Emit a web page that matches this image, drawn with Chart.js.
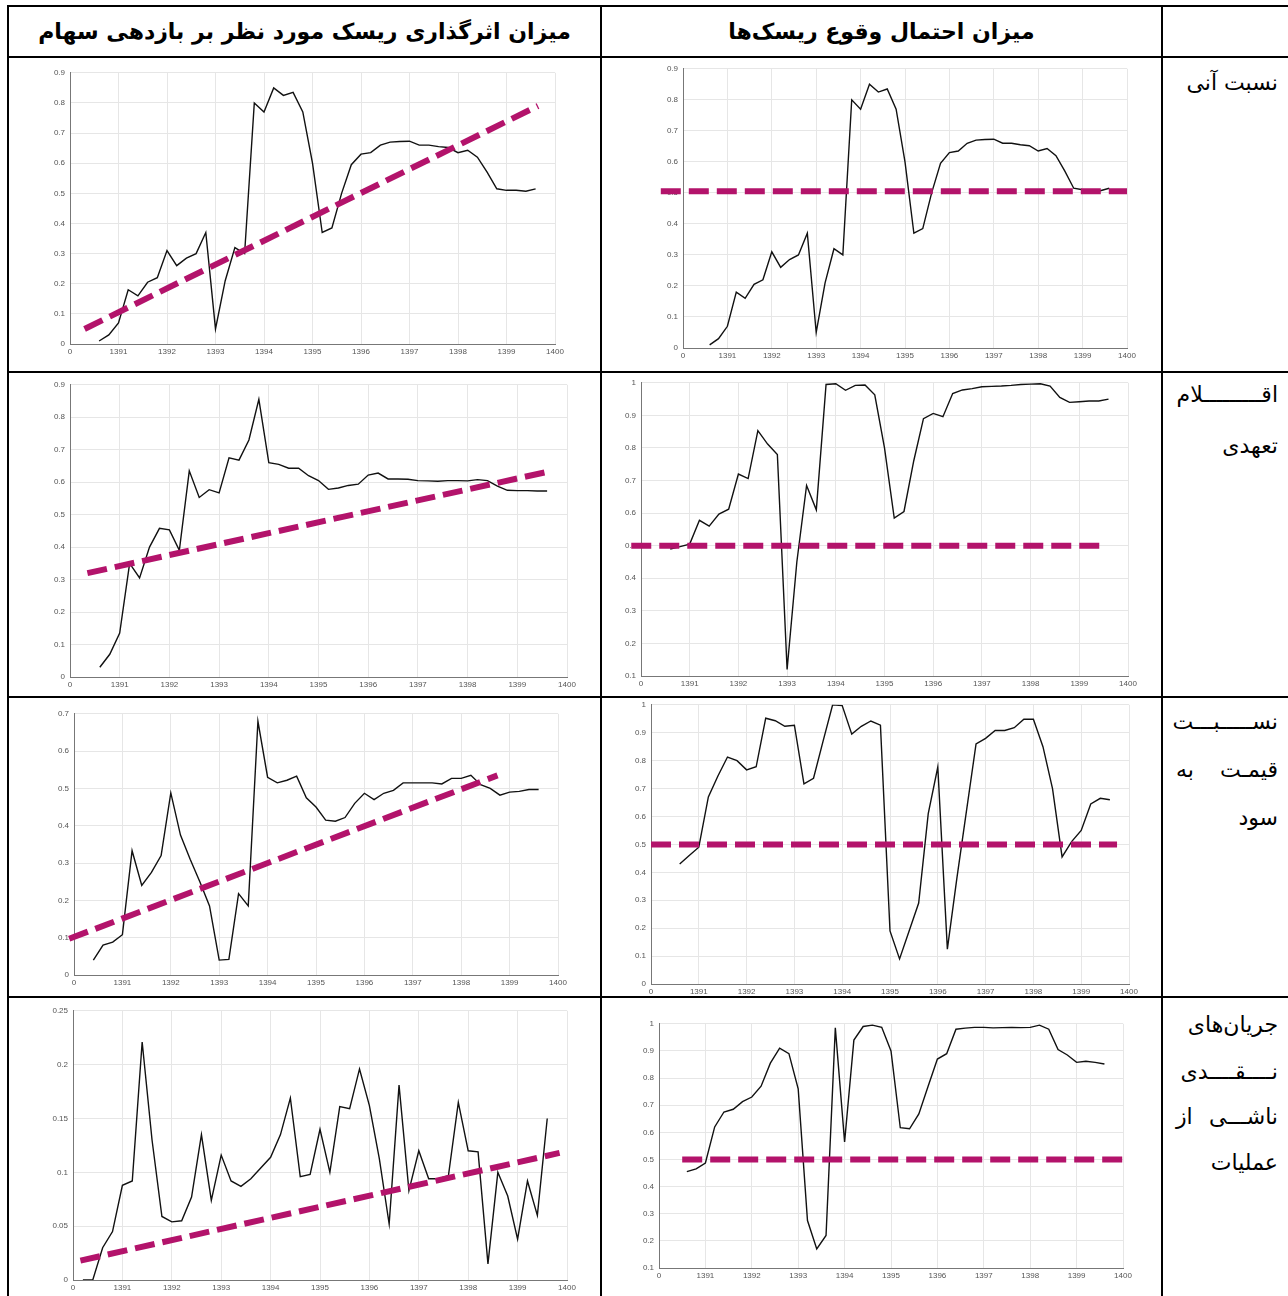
<!DOCTYPE html>
<html lang="fa">
<head>
<meta charset="utf-8">
<script src="https://cdn.jsdelivr.net/npm/chart.js@4.4.1/dist/chart.umd.min.js"></script>
<style>
body { margin: 0; width: 1288px; height: 1296px; background: #fff; position: relative; overflow: hidden; font-family: "DejaVu Sans", sans-serif; }
.linea { position: absolute; background: #000; }
.cabecera { position: absolute; top: 6px; height: 51px; line-height: 51px; text-align: center; font-weight: bold; font-size: 22px; direction: rtl; white-space: nowrap; }
.etiqueta { position: absolute; left: 1176px; width: 102px; height: 32px; line-height: 32px; direction: rtl; text-align: right; font-size: 22px; white-space: nowrap; }
.just { text-align: justify; text-align-last: justify; }
canvas { position: absolute; }
</style>
</head>
<body>

<!-- lineas de la tabla -->
<div class="linea" style="left:8px; top:5px; width:1280px; height:2px;"></div>
<div class="linea" style="left:8px; top:56px; width:1280px; height:2px;"></div>
<div class="linea" style="left:8px; top:371px; width:1280px; height:2px;"></div>
<div class="linea" style="left:8px; top:696px; width:1280px; height:2px;"></div>
<div class="linea" style="left:8px; top:996px; width:1280px; height:2px;"></div>
<div class="linea" style="left:7px; top:5px; width:2px; height:1291px;"></div>
<div class="linea" style="left:600px; top:5px; width:2px; height:1291px;"></div>
<div class="linea" style="left:1161px; top:5px; width:2px; height:1291px;"></div>

<div class="cabecera" style="left:9px; width:591px;">میزان اثرگذاری ریسک مورد نظر بر بازدهی سهام</div>
<div class="cabecera" style="left:602px; width:559px;">میزان احتمال وقوع ریسک‌ها</div>

<div class="etiqueta" style="top:67px;">نسبت آنی</div>
<div class="etiqueta" style="top:379px;">اقـــــــــلام</div>
<div class="etiqueta" style="top:430px;">تعهدی</div>
<div class="etiqueta" style="top:706px;">نســـــبـــت</div>
<div class="etiqueta just" style="top:754px;">قیمـت به</div>
<div class="etiqueta" style="top:802px;">سود</div>
<div class="etiqueta" style="top:1009px;">جریان‌های</div>
<div class="etiqueta" style="top:1056px;">نــــقــــدی</div>
<div class="etiqueta just" style="top:1101px;">ناشـــی از</div>
<div class="etiqueta" style="top:1147px;">عملیات</div>

<canvas id="g1"></canvas>
<canvas id="g2"></canvas>
<canvas id="g3"></canvas>
<canvas id="g4"></canvas>
<canvas id="g5"></canvas>
<canvas id="g6"></canvas>
<canvas id="g7"></canvas>
<canvas id="g8"></canvas>

<script>
// PERIODOS (eje x)
const periodos = [1390.2, 1390.4, 1390.6, 1390.8, 1391.0, 1391.2, 1391.4, 1391.6, 1391.8, 1392.0,
    1392.2, 1392.4, 1392.6, 1392.8, 1393.0, 1393.2, 1393.4, 1393.6, 1393.8, 1394.0,
    1394.2, 1394.4, 1394.6, 1394.8, 1395.0, 1395.2, 1395.4, 1395.6, 1395.8, 1396.0,
    1396.2, 1396.4, 1396.6, 1396.8, 1397.0, 1397.2, 1397.4, 1397.6, 1397.8, 1398.0,
    1398.2, 1398.4, 1398.6, 1398.8, 1399.0, 1399.2, 1399.4, 1399.6];

// Fila 1: نسبت آنی (misma serie en ambas columnas)
const serieNsbatAni = [null, null, 0.01, 0.03, 0.07, 0.18, 0.16, 0.205, 0.22, 0.31,
    0.26, 0.285, 0.30, 0.37, 0.05, 0.21, 0.32, 0.30, 0.80, 0.77,
    0.85, 0.825, 0.835, 0.77, 0.60, 0.37, 0.385, 0.50, 0.595, 0.63,
    0.635, 0.66, 0.67, 0.672, 0.673, 0.66, 0.66, 0.655, 0.652, 0.635,
    0.643, 0.62, 0.57, 0.515, 0.51, 0.51, 0.507, 0.515];

// Fila 2: اقلام تعهدی
const serieAqlamIzq = [null, null, 0.03, 0.07, 0.135, 0.35, 0.305, 0.40, 0.458, 0.453,
    0.39, 0.635, 0.553, 0.577, 0.567, 0.675, 0.668, 0.73, 0.855, 0.66,
    0.655, 0.643, 0.643, 0.62, 0.605, 0.578, 0.582, 0.59, 0.594, 0.622,
    0.628, 0.61, 0.61, 0.609, 0.605, 0.604, 0.603, 0.605, 0.605, 0.604,
    0.608, 0.605, 0.588, 0.575, 0.574, 0.574, 0.573, 0.573];
const serieAqlamDer = [null, null, 0.49, 0.497, 0.505, 0.578, 0.56, 0.597, 0.612, 0.72,
    0.706, 0.853, 0.812, 0.78, 0.12, 0.45, 0.685, 0.61, 0.995, 0.997,
    0.977, 0.992, 0.993, 0.963, 0.8, 0.585, 0.605, 0.76, 0.89, 0.906,
    0.896, 0.967, 0.978, 0.982, 0.988, 0.989, 0.99, 0.992, 0.995, 0.996,
    0.997, 0.99, 0.955, 0.94, 0.942, 0.944, 0.944, 0.95];

// Fila 3: نسبت قیمت به سود
const seriePeIzq = [null, 0.04, 0.08, 0.088, 0.108, 0.333, 0.24, 0.275, 0.32, 0.488,
    0.375, 0.31, 0.25, 0.185, 0.04, 0.042, 0.218, 0.185, 0.68, 0.53,
    0.515, 0.522, 0.533, 0.475, 0.45, 0.415, 0.412, 0.422, 0.46, 0.487,
    0.47, 0.487, 0.495, 0.515, 0.515, 0.515, 0.515, 0.512, 0.527, 0.527,
    0.535, 0.51, 0.5, 0.482, 0.49, 0.492, 0.497, 0.497];
const seriePeDer = [null, null, 0.43, 0.46, 0.49, 0.67, 0.745, 0.813, 0.8, 0.767,
    0.778, 0.952, 0.943, 0.923, 0.927, 0.717, 0.737, 0.87, 1.0, 0.997,
    0.895, 0.923, 0.942, 0.927, 0.19, 0.09, 0.19, 0.29, 0.61, 0.777,
    0.125, 0.38, 0.62, 0.86, 0.88, 0.908, 0.908, 0.918, 0.948, 0.948,
    0.85, 0.7, 0.455, 0.51, 0.55, 0.645, 0.665, 0.66];

// Fila 4: جریان‌های نقدی ناشی از عملیات
const serieFlujoIzq = [0, 0, 0.03, 0.045, 0.088, 0.092, 0.221, 0.13, 0.059, 0.054,
    0.055, 0.077, 0.135, 0.074, 0.116, 0.092, 0.087, 0.094, 0.104, 0.114,
    0.135, 0.169, 0.096, 0.098, 0.14, 0.1, 0.161, 0.159, 0.196, 0.162,
    0.113, 0.052, 0.181, 0.083, 0.12, 0.094, 0.094, 0.097, 0.165, 0.12,
    0.119, 0.015, 0.1, 0.078, 0.038, 0.092, 0.06, 0.15];
const serieFlujoDer = [null, null, 0.455, 0.465, 0.487, 0.62, 0.675, 0.685, 0.713, 0.73,
    0.77, 0.855, 0.91, 0.89, 0.76, 0.275, 0.17, 0.22, 0.985, 0.565,
    0.94, 0.99, 0.995, 0.987, 0.9, 0.617, 0.613, 0.668, 0.77, 0.87,
    0.89, 0.98, 0.984, 0.987, 0.987, 0.985, 0.986, 0.987, 0.986, 0.987,
    0.995, 0.98, 0.905, 0.885, 0.858, 0.862, 0.858, 0.852];

// Lineas de tendencia (extremos)
const tendX1 = [1390.3, 1399.65], tendY1 = [0.05, 0.79];
const tendX2 = [1389.5, 1400.0], tendY2 = [0.505, 0.505];
const tendX3 = [1390.35, 1399.55], tendY3 = [0.32, 0.63];
const tendX4 = [1389.8, 1399.55], tendY4 = [0.5, 0.5];
const tendX5 = [1389.9, 1398.75], tendY5 = [0.097, 0.535];
const tendX6 = [1390.0, 1399.75], tendY6 = [0.5, 0.5];
const tendX7 = [1390.15, 1399.85], tendY7 = [0.018, 0.118];
const tendX8 = [1390.5, 1400.0], tendY8 = [0.5, 0.5];

const fuenteTicks = { size: 8, family: 'Liberation Sans' };

function crearGrafico(id, caja, serie, tendX, tendY, yMin, yMax, yPaso) {
    const canvas = document.getElementById(id);
    const ancho = caja.r - caja.l + 40 + 14;
    const alto = caja.b - caja.t + 8 + 16;
    canvas.width = ancho;
    canvas.height = alto;
    canvas.style.width = ancho + 'px';
    canvas.style.height = alto + 'px';
    canvas.style.left = (caja.l - 40) + 'px';
    canvas.style.top = (caja.t - 8) + 'px';

    return new Chart(canvas, {
        type: 'line',
        data: {
            datasets: [
                {
                    data: periodos.map((x, i) => ({ x: x, y: serie[i] })),
                    borderColor: '#111',
                    borderWidth: 1.4,
                    pointRadius: 0,
                    tension: 0,
                    order: 2
                },
                {
                    data: tendX.map((x, i) => ({ x: x, y: tendY[i] })),
                    borderColor: '#b3136b',
                    borderWidth: 6,
                    borderDash: [20, 8],
                    borderCapStyle: 'butt',
                    pointRadius: 0,
                    clip: false,
                    order: 1
                }
            ]
        },
        options: {
            responsive: false,
            animation: false,
            events: [],
            layout: { padding: { top: 8, right: 14, left: 0, bottom: 0 } },
            plugins: { legend: { display: false }, tooltip: { enabled: false } },
            scales: {
                x: {
                    type: 'linear',
                    min: 1390,
                    max: 1400,
                    ticks: {
                        stepSize: 1,
                        autoSkip: false,
                        maxRotation: 0,
                        padding: 3,
                        color: '#555',
                        font: fuenteTicks,
                        // el primer tick se muestra como 0
                        callback: v => v === 1390 ? '0' : String(v)
                    },
                    grid: { color: '#e6e6e6', drawTicks: false },
                    border: { color: '#777' },
                    afterFit: s => { s.height = 16; }
                },
                y: {
                    min: yMin,
                    max: yMax,
                    ticks: {
                        stepSize: yPaso,
                        padding: 5,
                        color: '#555',
                        font: fuenteTicks,
                        callback: v => String(+v.toFixed(2))
                    },
                    grid: { color: '#e6e6e6', drawTicks: false },
                    border: { color: '#777' },
                    afterFit: s => { s.width = 40; }
                }
            }
        }
    });
}

crearGrafico('g1', { l: 70, r: 555, t: 71, b: 344 }, serieNsbatAni, tendX1, tendY1, 0, 0.9, 0.1);
crearGrafico('g2', { l: 683, r: 1127, t: 67, b: 348 }, serieNsbatAni, tendX2, tendY2, 0, 0.9, 0.1);
crearGrafico('g3', { l: 70, r: 567, t: 383, b: 677 }, serieAqlamIzq, tendX3, tendY3, 0, 0.9, 0.1);
crearGrafico('g4', { l: 641, r: 1128, t: 381, b: 676 }, serieAqlamDer, tendX4, tendY4, 0.1, 1, 0.1);
crearGrafico('g5', { l: 74, r: 558, t: 712, b: 975 }, seriePeIzq, tendX5, tendY5, 0, 0.7, 0.1);
crearGrafico('g6', { l: 651, r: 1129, t: 703, b: 984 }, seriePeDer, tendX6, tendY6, 0, 1, 0.1);
crearGrafico('g7', { l: 73, r: 567, t: 1009, b: 1280 }, serieFlujoIzq, tendX7, tendY7, 0, 0.25, 0.05);
crearGrafico('g8', { l: 659, r: 1123, t: 1022, b: 1268 }, serieFlujoDer, tendX8, tendY8, 0.1, 1, 0.1);
</script>
</body>
</html>
